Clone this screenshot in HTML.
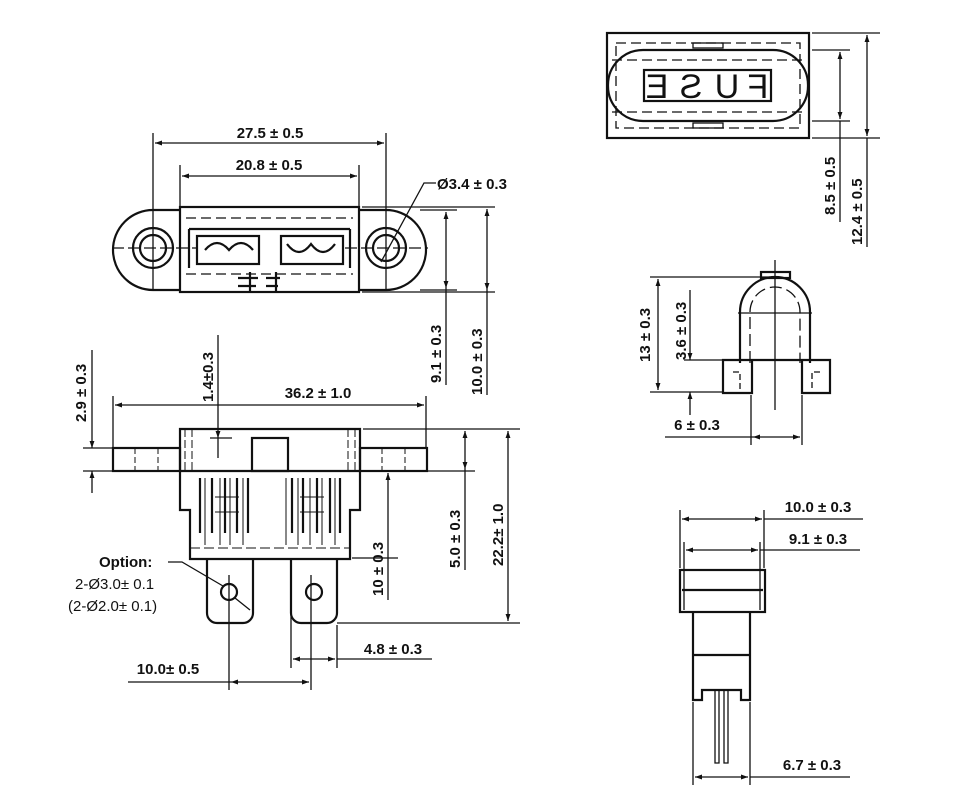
<!DOCTYPE html>
<html><head><meta charset="utf-8"><style>
html,body{margin:0;padding:0;background:#fff}
svg{display:block}
text{font-family:"Liberation Sans",Arial,sans-serif;font-weight:bold;font-size:15px;fill:#111}
.n{font-weight:normal}
.f{font-size:34px;font-weight:normal}
</style></head><body>
<svg width="980" height="809" viewBox="0 0 980 809" xmlns="http://www.w3.org/2000/svg">
<defs>
<marker id="a" viewBox="0 0 10 10" refX="10" refY="5" markerWidth="10" markerHeight="7" orient="auto-start-reverse" markerUnits="userSpaceOnUse"><path d="M0,1.5 L10,5 L0,8.5 z" fill="#111"/></marker>
</defs>
<g stroke="#111" fill="none" stroke-width="1.3">
<!-- ===== TOP VIEW ===== -->
<line x1="153" y1="133" x2="153" y2="290"/><line x1="386" y1="133" x2="386" y2="290"/>
<line x1="155" y1="143" x2="384" y2="143" marker-start="url(#a)" marker-end="url(#a)"/>
<line x1="180" y1="165" x2="180" y2="207"/><line x1="359" y1="165" x2="359" y2="207"/>
<line x1="182" y1="176" x2="357" y2="176" marker-start="url(#a)" marker-end="url(#a)"/>
<g stroke-width="2.2">
<path d="M180,210 H153 A38,38 0 0 0 153,290 H180"/>
<path d="M359,210 H386 A38,38 0 0 1 386,290 H359"/>
<rect x="180" y="207" width="179" height="85"/>
<circle cx="153" cy="248" r="20"/><circle cx="153" cy="248" r="13"/>
<circle cx="386" cy="248" r="20"/><circle cx="386" cy="248" r="13"/>
<rect x="197" y="236" width="62" height="28"/>
<rect x="281" y="236" width="62" height="28"/>
<line x1="189" y1="229" x2="350" y2="229"/>
<line x1="189" y1="229" x2="189" y2="268"/><line x1="350" y1="229" x2="350" y2="268"/>
<path d="M205,250 q12,-14 24,0 q12,-14 24,0"/>
<path d="M287,244 q12,16 24,0 q12,16 24,0"/>
<path d="M238,278 h20 M238,286 h18 M266,278 h14 M266,286 h12 M250,272 v20 M276,272 v20"/>
</g>
<line x1="186" y1="218" x2="353" y2="218" stroke-dasharray="10,5"/>
<line x1="186" y1="274" x2="353" y2="274" stroke-dasharray="10,5"/>
<line x1="112" y1="248" x2="196" y2="248" stroke-dasharray="12,4"/>
<line x1="345" y1="248" x2="428" y2="248" stroke-dasharray="12,4"/>
<line x1="362" y1="207" x2="495" y2="207"/><line x1="420" y1="210" x2="457" y2="210"/>
<line x1="420" y1="290" x2="457" y2="290"/><line x1="362" y1="292" x2="495" y2="292"/>
<line x1="446" y1="212" x2="446" y2="288" marker-start="url(#a)" marker-end="url(#a)"/>
<line x1="446" y1="288" x2="446" y2="385"/>
<line x1="487" y1="209" x2="487" y2="290" marker-start="url(#a)" marker-end="url(#a)"/>
<line x1="487" y1="290" x2="487" y2="395"/>
<polyline points="436,183 424,183 381,262"/>
<!-- ===== FRONT VIEW ===== -->
<line x1="113" y1="396" x2="113" y2="448"/><line x1="426" y1="396" x2="426" y2="448"/>
<line x1="115" y1="405" x2="424" y2="405" marker-start="url(#a)" marker-end="url(#a)"/>
<g stroke-width="2.2">
<rect x="113" y="448" width="67" height="23"/>
<rect x="360" y="448" width="67" height="23"/>
<path d="M180,429 H360 V510 H350 V559 H190 V510 H180 Z"/>
<rect x="252" y="438" width="36" height="33"/>
<line x1="180" y1="471" x2="360" y2="471"/>
<path d="M207,559 V613 a10,10 0 0 0 10,10 H243 a10,10 0 0 0 10,-10 V559"/>
<path d="M291,559 V613 a10,10 0 0 0 10,10 H327 a10,10 0 0 0 10,-10 V559"/>
<circle cx="229" cy="592" r="8"/><circle cx="314" cy="592" r="8"/>
<path d="M200,478 V533 M212,478 V533 M225,478 V533 M237,478 V533 M248,478 V533 M292,478 V533 M303,478 V533 M317,478 V533 M330,478 V533 M340,478 V533"/>
</g>
<g stroke-width="1">
<path d="M205,478 V545 M220,478 V545 M230,478 V545 M243,478 V545 M286,478 V545 M298,478 V545 M310,478 V545 M322,478 V545 M335,478 V545"/>
<path d="M215,497 h24 M215,512 h24 M300,497 h24 M300,512 h24"/>
<path d="M190,548 H350" stroke-dasharray="10,4"/>
<path d="M185,429 V471 M192,429 V471 M348,429 V471 M355,429 V471" stroke-dasharray="8,3"/>
<path d="M135,448 V471 M158,448 V471 M382,448 V471 M405,448 V471" stroke-dasharray="6,3"/>
</g>
<line x1="83" y1="448" x2="120" y2="448"/><line x1="83" y1="471" x2="120" y2="471"/>
<line x1="92" y1="350" x2="92" y2="448" marker-end="url(#a)"/>
<line x1="92" y1="493" x2="92" y2="471" marker-end="url(#a)"/>
<line x1="218" y1="335" x2="218" y2="438" marker-end="url(#a)"/>
<line x1="218" y1="438" x2="218" y2="458"/><line x1="210" y1="438" x2="232" y2="438"/>
<line x1="363" y1="429" x2="520" y2="429"/><line x1="363" y1="471" x2="475" y2="471"/>
<line x1="465" y1="431" x2="465" y2="469" marker-start="url(#a)" marker-end="url(#a)"/>
<line x1="465" y1="469" x2="465" y2="570"/>
<line x1="508" y1="431" x2="508" y2="621" marker-start="url(#a)" marker-end="url(#a)"/>
<line x1="337" y1="623" x2="520" y2="623"/>
<line x1="388" y1="473" x2="388" y2="558" marker-start="url(#a)"/>
<line x1="388" y1="558" x2="388" y2="600"/>
<line x1="352" y1="558" x2="398" y2="558"/>
<line x1="291" y1="565" x2="291" y2="668"/><line x1="337" y1="625" x2="337" y2="668"/>
<line x1="293" y1="659" x2="335" y2="659" marker-start="url(#a)" marker-end="url(#a)"/>
<line x1="337" y1="659" x2="432" y2="659"/>
<line x1="229" y1="575" x2="229" y2="690"/><line x1="311" y1="575" x2="311" y2="690"/>
<line x1="231" y1="682" x2="309" y2="682" marker-start="url(#a)" marker-end="url(#a)"/>
<line x1="128" y1="682" x2="231" y2="682"/>
<polyline points="168,562 182,562 223,586"/>
<line x1="235" y1="598" x2="250" y2="610"/>
<!-- ===== FUSE VIEW ===== -->
<g stroke-width="2.2">
<rect x="607" y="33" width="202" height="105"/>
<rect x="608" y="50" width="200" height="71" rx="35" ry="35"/>
<rect x="644" y="70" width="127" height="31"/>
</g>
<rect x="616" y="43" width="184" height="85" stroke-dasharray="10,5"/>
<line x1="612" y1="60" x2="804" y2="60" stroke-dasharray="10,5"/>
<line x1="612" y1="112" x2="804" y2="112" stroke-dasharray="10,5"/>
<rect x="693" y="43" width="30" height="5"/><rect x="693" y="123" width="30" height="5"/>
<line x1="812" y1="33" x2="880" y2="33"/><line x1="812" y1="138" x2="880" y2="138"/>
<line x1="812" y1="50" x2="850" y2="50"/><line x1="812" y1="121" x2="850" y2="121"/>
<line x1="840" y1="52" x2="840" y2="119" marker-start="url(#a)" marker-end="url(#a)"/>
<line x1="840" y1="121" x2="840" y2="222"/>
<line x1="867" y1="35" x2="867" y2="136" marker-start="url(#a)" marker-end="url(#a)"/>
<line x1="867" y1="138" x2="867" y2="247"/>
<!-- ===== SIDE VIEW ===== -->
<g stroke-width="2.2">
<path d="M740,363 V312 A35,35 0 0 1 810,312 V363"/>
<path d="M723,360 H752 V393 H723 Z M802,360 H830 V393 H802 Z M752,360 H802"/>
<rect x="761" y="272" width="29" height="6"/>
</g>
<path d="M750,363 V312 A25,25 0 0 1 800,312 V363" stroke-dasharray="12,5"/>
<line x1="738" y1="313" x2="812" y2="313"/>
<line x1="775" y1="260" x2="775" y2="410"/>
<path d="M733,372 H740 V390 M820,372 H812 V390" stroke-dasharray="6,3"/>
<line x1="650" y1="277" x2="770" y2="277"/><line x1="650" y1="392" x2="722" y2="392"/>
<line x1="684" y1="360" x2="722" y2="360"/>
<line x1="658" y1="279" x2="658" y2="390" marker-start="url(#a)" marker-end="url(#a)"/>
<line x1="690" y1="290" x2="690" y2="360" marker-end="url(#a)"/>
<line x1="690" y1="415" x2="690" y2="392" marker-end="url(#a)"/>
<line x1="751" y1="395" x2="751" y2="445"/><line x1="802" y1="395" x2="802" y2="445"/>
<line x1="753" y1="437" x2="800" y2="437" marker-start="url(#a)" marker-end="url(#a)"/>
<line x1="665" y1="437" x2="753" y2="437"/>
<!-- ===== BOTTOM RIGHT ===== -->
<line x1="680" y1="510" x2="680" y2="568"/><line x1="764" y1="510" x2="764" y2="568"/>
<line x1="682" y1="519" x2="762" y2="519" marker-start="url(#a)" marker-end="url(#a)"/>
<line x1="764" y1="519" x2="863" y2="519"/>
<line x1="684" y1="542" x2="684" y2="610"/><line x1="760" y1="542" x2="760" y2="610"/>
<line x1="686" y1="550" x2="758" y2="550" marker-start="url(#a)" marker-end="url(#a)"/>
<line x1="760" y1="550" x2="860" y2="550"/>
<g stroke-width="2.2">
<rect x="680" y="570" width="85" height="42"/>
<line x1="682" y1="590" x2="763" y2="590"/>
<path d="M693,612 V700 H702 V690 H741 V700 H750 V612"/>
<line x1="693" y1="655" x2="750" y2="655"/>
</g>
<path d="M715,690 V763 H719 V690 M724,690 V763 H728 V690" stroke-width="1.3"/>
<line x1="693" y1="702" x2="693" y2="785"/><line x1="750" y1="702" x2="750" y2="785"/>
<line x1="695" y1="777" x2="748" y2="777" marker-start="url(#a)" marker-end="url(#a)"/>
<line x1="750" y1="777" x2="850" y2="777"/>
</g>
<!-- TEXT -->
<text x="270" y="138" text-anchor="middle">27.5 ± 0.5</text>
<text x="269" y="170" text-anchor="middle">20.8 ± 0.5</text>
<text x="437" y="189">Ø3.4 ± 0.3</text>
<text transform="translate(441,383) rotate(-90)">9.1 ± 0.3</text>
<text transform="translate(482,395) rotate(-90)">10.0 ± 0.3</text>
<text x="318" y="398" text-anchor="middle">36.2 ± 1.0</text>
<text transform="translate(86,422) rotate(-90)">2.9 ± 0.3</text>
<text transform="translate(213,402) rotate(-90)">1.4±0.3</text>
<text transform="translate(460,568) rotate(-90)">5.0 ± 0.3</text>
<text transform="translate(503,566) rotate(-90)">22.2± 1.0</text>
<text transform="translate(383,596) rotate(-90)">10 ± 0.3</text>
<text x="393" y="654" text-anchor="middle">4.8 ± 0.3</text>
<text x="168" y="674" text-anchor="middle">10.0± 0.5</text>
<text x="99" y="567">Option:</text>
<text x="75" y="589" class="n">2-Ø3.0± 0.1</text>
<text x="68" y="611" class="n">(2-Ø2.0± 0.1)</text>
<text class="f" text-anchor="middle" transform="translate(758,98) scale(-1,1)">F</text>
<text class="f" text-anchor="middle" transform="translate(727,98) scale(-1,1)">U</text>
<text class="f" text-anchor="middle" transform="translate(691,98) scale(-1,1)">S</text>
<text class="f" text-anchor="middle" transform="translate(657,98) scale(-1,1)">E</text>
<text transform="translate(835,215) rotate(-90)">8.5 ± 0.5</text>
<text transform="translate(862,245) rotate(-90)">12.4 ± 0.5</text>
<text transform="translate(650,362) rotate(-90)">13 ± 0.3</text>
<text transform="translate(686,360) rotate(-90)">3.6 ± 0.3</text>
<text x="697" y="430" text-anchor="middle">6 ± 0.3</text>
<text x="818" y="512" text-anchor="middle">10.0 ± 0.3</text>
<text x="818" y="544" text-anchor="middle">9.1 ± 0.3</text>
<text x="812" y="770" text-anchor="middle">6.7 ± 0.3</text>
</svg>
</body></html>
